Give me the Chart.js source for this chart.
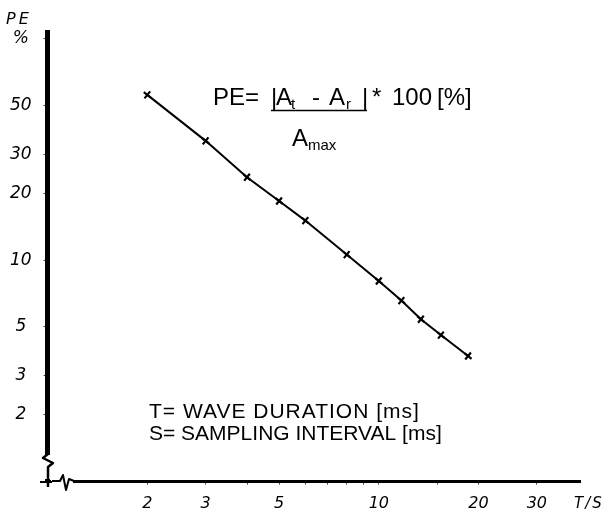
<!DOCTYPE html>
<html>
<head>
<meta charset="utf-8">
<script src="https://cdn.jsdelivr.net/npm/chart.js@4/dist/chart.umd.min.js"></script>
<style>
html, body { margin: 0; padding: 0; background: #fff; }
#wrap { width: 607px; height: 512px; }
</style>
</head>
<body>
<div id="wrap"><canvas id="peChart" width="607" height="512"></canvas></div>
<script>
// values (log-log)
const tsRatio = [2, 3, 4, 5, 6, 8, 10, 11.7, 13.4, 15.4, 18.6];
const peValues = [55.8, 34.6, 23.7, 18.5, 15.1, 10.6, 8.06, 6.57, 5.41, 4.59, 3.69];

const xTickValues = [2, 3, 4, 5, 6, 7, 8, 9, 10, 15, 20, 30];
const xTickLabels = ['2', '3', '', '5', '', '', '', '', '10', '', '20', '30'];
const yTickValues = [2, 3, 5, 10, 20, 30, 50, 100];
const yTickLabels = ['2', '3', '5', '10', '20', '30', '50', '%'];

const handFont = { family: 'DejaVu Sans', style: 'italic', size: 16 };

// extra text + axis break
const notesPlugin = {
    id: 'notes',
    afterDraw(chart) {
        const ctx = chart.ctx;
        ctx.save();
        ctx.fillStyle = '#000';
        ctx.strokeStyle = '#000';
        ctx.textBaseline = 'alphabetic';
        ctx.textAlign = 'left';

        // axis titles
        ctx.font = 'italic 16px "DejaVu Sans"';
        ctx.letterSpacing = '3px';
        ctx.fillText('PE', 6, 24);
        ctx.font = 'italic 15px "DejaVu Sans"';
        ctx.letterSpacing = '2px';
        ctx.fillText('T/S', 574, 508);
        ctx.letterSpacing = '0px';

        // formula
        const big = '24px "Liberation Sans"';
        const small = '15px "Liberation Sans"';
        ctx.font = big;
        ctx.fillText('PE=', 213, 105);
        ctx.fillText('|', 271, 105);
        ctx.fillText('A', 276, 105);
        ctx.fillText('-', 312, 105);
        ctx.fillText('A', 329, 105);
        ctx.fillText('|', 362, 105);
        ctx.fillText('*', 372, 105);
        ctx.fillText('100', 392, 105);
        ctx.fillText('[%]', 437, 105);
        ctx.font = small;
        ctx.fillText('t', 291, 109);
        ctx.fillText('r', 346, 109);
        ctx.lineWidth = 1.5;
        ctx.beginPath();
        ctx.moveTo(271, 110.5);
        ctx.lineTo(367, 110.5);
        ctx.stroke();
        ctx.font = big;
        ctx.fillText('A', 292, 146);
        ctx.font = small;
        ctx.fillText('max', 308, 150);

        // legend notes
        ctx.font = '21px "Liberation Sans"';
        ctx.letterSpacing = '1px';
        ctx.fillText('T= WAVE DURATION [ms]', 149, 418);
        ctx.letterSpacing = '0px';
        ctx.fillText('S= SAMPLING INTERVAL [ms]', 149, 440);

        // axis break marks
        ctx.fillStyle = '#fff';
        ctx.fillRect(41, 455, 14, 24);
        ctx.fillRect(51, 476, 22, 10);
        ctx.lineWidth = 2.5;
        ctx.lineJoin = 'round';
        ctx.beginPath();
        ctx.moveTo(48, 454);
        ctx.lineTo(43, 458);
        ctx.lineTo(53, 463);
        ctx.lineTo(48, 467);
        ctx.lineTo(48, 487);
        ctx.stroke();
        ctx.lineWidth = 2;
        ctx.beginPath();
        ctx.moveTo(40, 482);
        ctx.lineTo(52, 482);
        ctx.moveTo(52, 481);
        ctx.lineTo(60, 481);
        ctx.lineTo(63, 475);
        ctx.lineTo(66, 490);
        ctx.lineTo(69, 479);
        ctx.lineTo(74, 481);
        ctx.stroke();
        ctx.restore();
    }
};

const chart = new Chart(document.getElementById('peChart'), {
    type: 'line',
    data: {
        datasets: [{
            data: tsRatio.map((t, i) => ({ x: t, y: peValues[i] })),
            borderColor: '#000',
            borderWidth: 2,
            pointStyle: 'cross',
            pointRadius: 4.5,
            pointRotation: 39,
            pointBorderWidth: 2.2,
            pointBorderColor: '#000',
            fill: false,
            tension: 0
        }]
    },
    options: {
        responsive: false,
        devicePixelRatio: 1,
        animation: false,
        layout: { padding: { top: 32.3, right: 27, left: 0, bottom: 0 } },
        plugins: {
            legend: { display: false },
            tooltip: { enabled: false }
        },
        scales: {
            x: {
                type: 'logarithmic',
                position: 'bottom',
                min: 1,
                max: 40.5,
                afterFit: (scale) => { scale.height = 30.4; },
                afterBuildTicks: (scale) => { scale.ticks = xTickValues.map(v => ({ value: v })); },
                grid: { drawOnChartArea: false, drawTicks: true, tickLength: 3, color: '#444', lineWidth: 1 },
                border: { display: true, color: '#000', width: 3 },
                ticks: {
                    autoSkip: false,
                    maxRotation: 0,
                    padding: 10,
                    color: '#000',
                    font: handFont,
                    callback: (value) => xTickLabels[xTickValues.indexOf(value)] ?? ''
                }
            },
            y: {
                type: 'logarithmic',
                position: 'left',
                min: 1,
                max: 107,
                afterFit: (scale) => { scale.width = 47.6; },
                afterBuildTicks: (scale) => { scale.ticks = yTickValues.map(v => ({ value: v })); },
                grid: { drawOnChartArea: false, drawTicks: true, tickLength: 4, color: '#444', lineWidth: 1 },
                border: { display: true, color: '#000', width: 5 },
                ticks: {
                    autoSkip: false,
                    crossAlign: 'center',
                    padding: 12,
                    color: '#000',
                    font: { family: 'DejaVu Sans', style: 'italic', size: 17 },
                    callback: (value) => yTickLabels[yTickValues.indexOf(value)] ?? ''
                }
            }
        }
    },
    plugins: [notesPlugin]
});
</script>
</body>
</html>
